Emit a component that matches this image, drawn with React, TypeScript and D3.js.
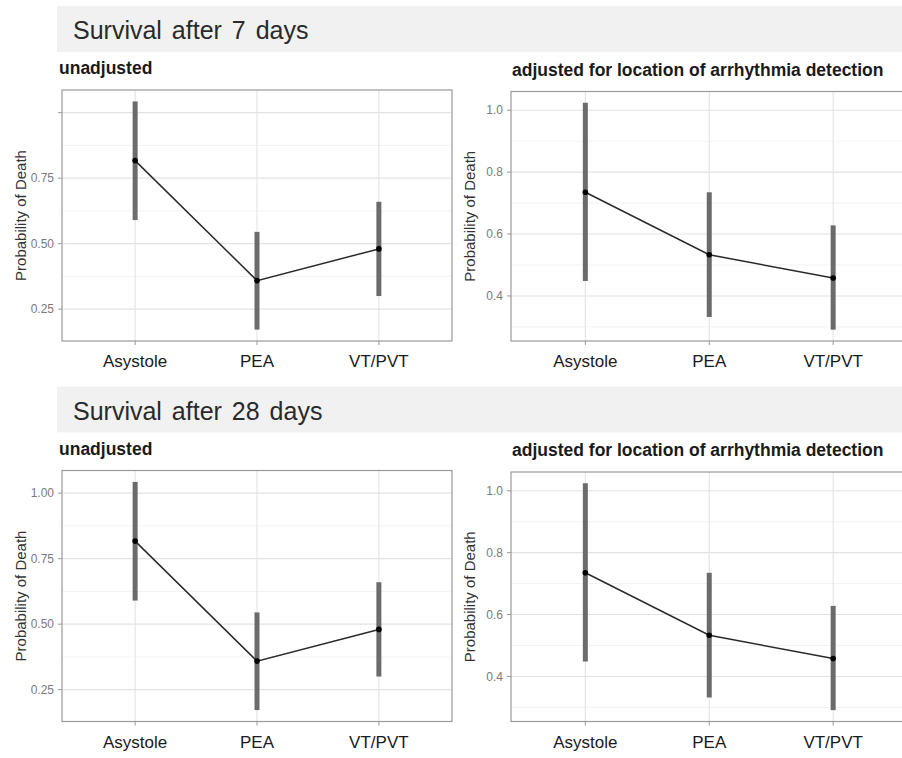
import React from "react";
import * as d3 from "d3";

const categories = ["Asystole", "PEA", "VT/PVT"];

// unadjusted estimates with interval bounds
const unadjEst = [0.817, 0.359, 0.48];
const unadjLow = [0.59, 0.172, 0.3];
const unadjHigh = [1.043, 0.545, 0.66];

// adjusted for location of arrhythmia detection
const adjEst = [0.735, 0.533, 0.458];
const adjLow = [0.448, 0.332, 0.291];
const adjHigh = [1.024, 0.735, 0.628];

const unadjTicks = [0.25, 0.5, 0.75, 1.0];
const adjTicks = [0.4, 0.6, 0.8, 1.0];

const rowTitles = ["Survival after 7 days", "Survival after 28 days"];
const panelTitles = ["unadjusted", "adjusted for location of arrhythmia detection"];
const yTitle = "Probability of Death";

const FONT = "'Liberation Sans', Arial, sans-serif";

type PanelProps = {
  left: number;
  right: number;
  top: number;
  bottom: number;
  est: number[];
  low: number[];
  high: number[];
  ticks: number[];
  fmt: (v: number) => string;
  title: string;
  titleX: number;
  hideTopLabel?: boolean;
};

const Panel = ({ left, right, top, bottom, est, low, high, ticks, fmt, title, titleX, hideTopLabel }: PanelProps) => {
  const lo = d3.min(low)!;
  const hi = d3.max(high)!;
  const pad = (hi - lo) * 0.05;
  const y = d3.scaleLinear().domain([lo - pad, hi + pad]).range([bottom, top]);
  const x = d3.scalePoint<string>().domain(categories).range([left, right]).padding(0.6);

  const step = ticks[1] - ticks[0];
  const minors = [ticks[0] - step / 2, ...ticks.map(t => t + step / 2)]
    .filter(v => v > lo - pad && v < hi + pad);

  const line = d3.line<number>()
    .x((_, i) => x(categories[i])!)
    .y(d => y(d));

  return (
    <g>
      <text x={titleX} y={top - 16} fontFamily={FONT} fontWeight="bold" fontSize={17.5} fill="#1a1a1a">
        {title}
      </text>
      <rect x={left} y={top} width={right - left} height={bottom - top} fill="#fff" />
      {minors.map(v => (
        <line key={"m" + v} x1={left} x2={right} y1={y(v)} y2={y(v)} stroke="#f0f0f0" strokeWidth={0.9} />
      ))}
      {ticks.map(v => (
        <line key={"g" + v} x1={left} x2={right} y1={y(v)} y2={y(v)} stroke="#e3e3e3" strokeWidth={1.1} />
      ))}
      {categories.map(c => (
        <line key={"v" + c} x1={x(c)} x2={x(c)} y1={top} y2={bottom} stroke="#e3e3e3" strokeWidth={1.1} />
      ))}
      {categories.map((c, i) => (
        <line key={"e" + c} x1={x(c)} x2={x(c)} y1={y(low[i])} y2={y(high[i])} stroke="#6b6b6b" strokeWidth={5} />
      ))}
      <path d={line(est)!} fill="none" stroke="#2a2a2a" strokeWidth={1.5} />
      {categories.map((c, i) => (
        <circle key={"p" + c} cx={x(c)} cy={y(est[i])} r={2.8} fill="#000" />
      ))}
      <rect x={left} y={top} width={right - left} height={bottom - top} fill="none" stroke="#9a9a9a" strokeWidth={1.2} />
      {ticks.map(v => (
        <g key={"t" + v}>
          <line x1={left - 4} x2={left} y1={y(v)} y2={y(v)} stroke="#999" />
          {!(hideTopLabel && v === ticks[ticks.length - 1]) && (
            <text x={left - 8} y={y(v)} dy="0.35em" textAnchor="end" fontFamily={FONT} fontSize={12} fill="#7a7a7a">
              {fmt(v)}
            </text>
          )}
        </g>
      ))}
      {categories.map(c => (
        <g key={"xl" + c}>
          <line x1={x(c)} x2={x(c)} y1={bottom} y2={bottom + 4} stroke="#999" />
          <text x={x(c)} y={bottom + 26} textAnchor="middle" fontFamily={FONT} fontSize={17} fill="#1a1a1a">
            {c}
          </text>
        </g>
      ))}
      <text
        transform={`translate(${left - 36.5},${(top + bottom) / 2}) rotate(-90)`}
        textAnchor="middle"
        fontFamily={FONT}
        fontSize={15}
        fill="#333"
      >
        {yTitle}
      </text>
    </g>
  );
};

const App = () => {
  const width = 902;
  const height = 758;
  const rowOffset = 380.5;
  const fmt2 = d3.format(".2f");
  const fmt1 = d3.format(".1f");

  return (
    <svg width={width} height={height} style={{ position: "absolute", left: 0, top: 0, display: "block", background: "#fff" }}>
      {rowTitles.map((title, r) => {
        const oy = r * rowOffset;
        return (
          <g key={title}>
            <rect x={57} y={6 + oy} width={width - 57} height={46} fill="#f1f1f1" />
            <text x={73} y={39 + oy} fontFamily={FONT} fontSize={25} fill="#2a2a2a" wordSpacing={3}>
              {title}
            </text>
            <Panel
              left={62}
              right={452}
              top={90 + oy}
              bottom={341 + oy}
              est={unadjEst}
              low={unadjLow}
              high={unadjHigh}
              ticks={unadjTicks}
              fmt={fmt2}
              title={panelTitles[0]}
              titleX={59}
              hideTopLabel={r === 0}
            />
            <Panel
              left={511}
              right={907.5}
              top={91.5 + oy}
              bottom={341 + oy}
              est={adjEst}
              low={adjLow}
              high={adjHigh}
              ticks={adjTicks}
              fmt={fmt1}
              title={panelTitles[1]}
              titleX={512}
            />
          </g>
        );
      })}
    </svg>
  );
};

export default App;
